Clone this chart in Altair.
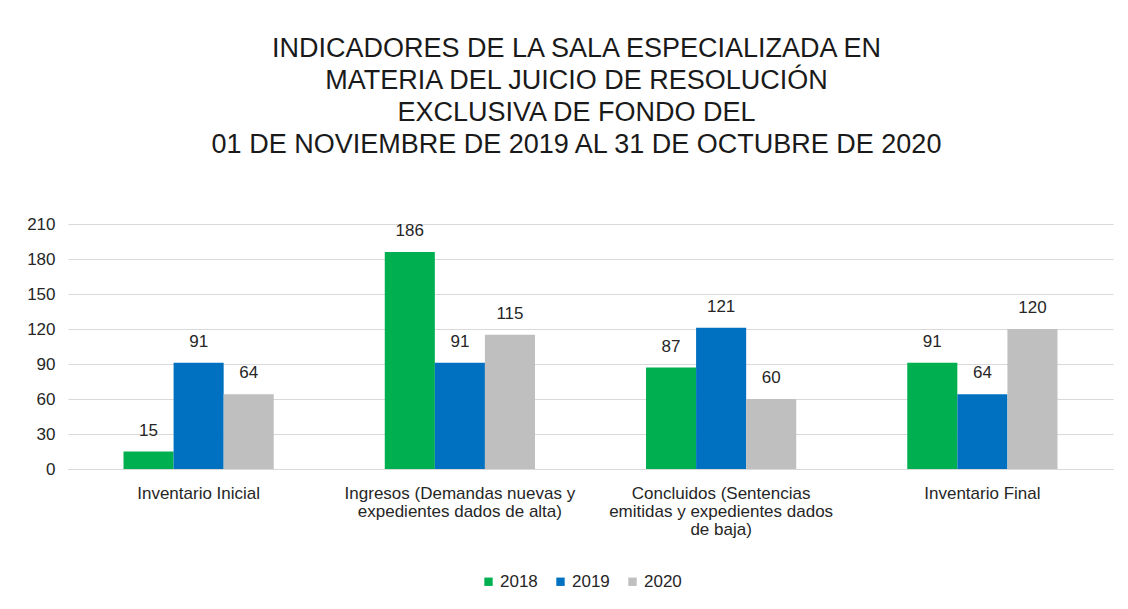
import altair as alt
import pandas as pd

categories = [
    "Inventario Inicial",
    "Ingresos (Demandas nuevas y\nexpedientes dados de alta)",
    "Concluidos (Sentencias\nemitidas y expedientes dados\nde baja)",
    "Inventario Final",
]
years = ["2018", "2019", "2020"]
values_2018 = [15, 186, 87, 91]
values_2019 = [91, 91, 121, 64]
values_2020 = [64, 115, 60, 120]
colors = ["#00B050", "#0070C0", "#BFBFBF"]
y_ticks = [0, 30, 60, 90, 120, 150, 180, 210]
title_lines = [
    "INDICADORES DE LA SALA ESPECIALIZADA EN",
    "MATERIA DEL JUICIO DE RESOLUCIÓN",
    "EXCLUSIVA DE FONDO DEL",
    "01 DE NOVIEMBRE DE 2019 AL 31 DE OCTUBRE DE 2020",
]

rows = []
for yr, vals in zip(years, [values_2018, values_2019, values_2020]):
    for c, v in zip(categories, vals):
        rows.append({"cat": c, "year": yr, "value": v})
df = pd.DataFrame(rows)

FONT = "Liberation Sans"
TXT = "#262626"
FS = 17

x_enc = alt.X(
    "cat:N",
    sort=categories,
    title=None,
    scale=alt.Scale(paddingInner=0.425, paddingOuter=0.2125),
    axis=alt.Axis(
        labelExpr="split(datum.label, '\\n')",
        labelAngle=0,
        labelFontSize=FS,
        labelLineHeight=18,
        labelColor=TXT,
        labelPadding=16,
        labelBaseline="top",
        labelLimit=0,
        ticks=False,
        domainColor="#D9D9D9",
        grid=False,
    ),
)
xoff = alt.XOffset("year:N", sort=years, scale=alt.Scale(paddingInner=0, paddingOuter=0))
y_enc = alt.Y(
    "value:Q",
    title=None,
    scale=alt.Scale(domain=[0, 210], nice=False),
    axis=alt.Axis(
        values=y_ticks,
        labelFontSize=FS,
        labelColor=TXT,
        labelPadding=13,
        labelOverlap=False,
        labelFlush=False,
        ticks=False,
        domain=False,
        gridColor="#D9D9D9",
    ),
)

base = alt.Chart(df).encode(x=x_enc, xOffset=xoff, y=y_enc)

bars = base.mark_bar().encode(
    color=alt.Color(
        "year:N",
        sort=years,
        scale=alt.Scale(domain=years, range=colors),
        legend=alt.Legend(
            title=None,
            orient="none",
            direction="horizontal",
            legendX=412,
            legendY=349,
            symbolType="square",
            symbolSize=70,
            symbolStrokeWidth=0,
            labelFontSize=FS,
            labelColor=TXT,
            columnPadding=14,
            labelOffset=3,
        ),
    ),
)

labels = base.mark_text(
    baseline="alphabetic", dy=-16, fontSize=FS, color=TXT, font=FONT
).encode(text=alt.Text("value:Q"))

chart = (
    alt.layer(bars, labels)
    .properties(
        width=1045,
        height=245,
        padding={"left": 60, "top": 216, "right": 7, "bottom": 130},
        autosize=alt.AutoSizeParams(type="none"),
        title=alt.Title(
            text=title_lines,
            fontSize=27,
            fontWeight="normal",
            color="#1a1a1a",
            font=FONT,
            lineHeight=32,
            anchor="middle",
            offset=56,
            dx=-14,
        ),
    )
    .configure(font=FONT)
    .configure_view(stroke=None)
)

chart.save("out.html", embed_options={"renderer": "svg", "actions": False})
